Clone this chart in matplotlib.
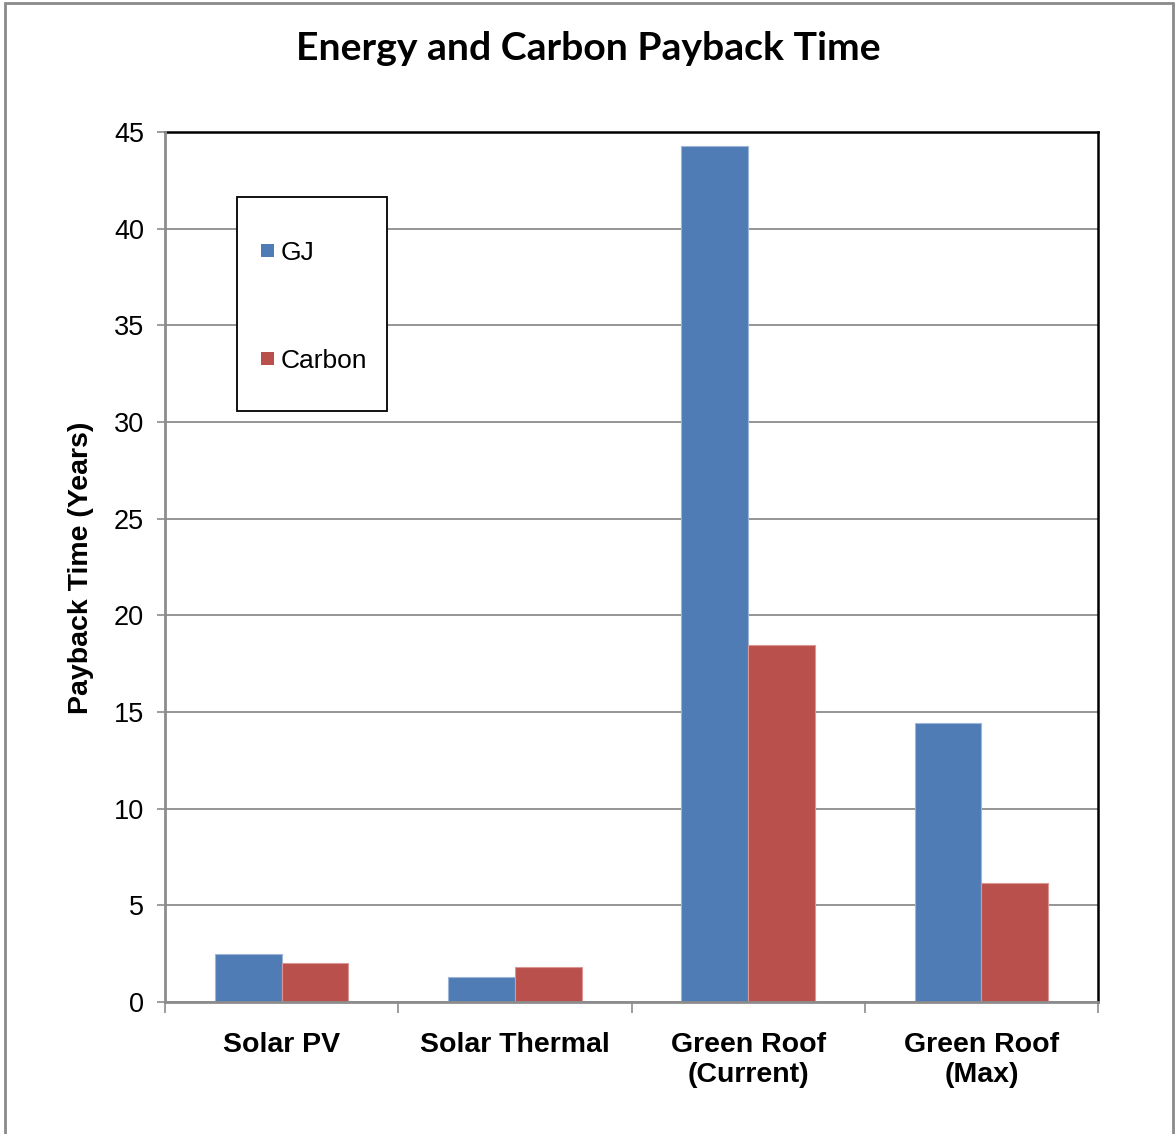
import matplotlib
matplotlib.use("Agg")
import matplotlib.pyplot as plt
from matplotlib.patches import Rectangle
import numpy as np

categories = ["Solar PV", "Solar Thermal", "Green Roof\n(Current)", "Green Roof\n(Max)"]
gj_years = [2.47, 1.27, 44.3, 14.45]
carbon_years = [2.0, 1.81, 18.44, 6.14]
series_names = ["GJ", "Carbon"]
y_ticks = [0, 5, 10, 15, 20, 25, 30, 35, 40, 45]

blue = "#4F7CB5"
red = "#BA504C"
grid_gray = "#8C8C8C"

W, H = 1175, 1134

plt.rcParams["font.family"] = ["Liberation Sans", "DejaVu Sans"]

fig = plt.figure(figsize=(W / 100, H / 100), dpi=100)
fig.patch.set_facecolor("white")


def fx(px):
    return px / W


def fy(py):
    return 1 - py / H


# outer chart frame
fig.add_artist(Rectangle((fx(5), -0.01), fx(1168), 1.01 - 3 / H,
                         transform=fig.transFigure, fill=False,
                         edgecolor="#8A8A8A", linewidth=2.0))

ax = fig.add_axes([fx(165), fy(1002), fx(933), 870 / H])

x = np.arange(len(categories)) + 0.5
w = 1 / 3.5
bars_gj = ax.bar(x - w / 2, gj_years, width=w, color=blue, edgecolor="#9DB5D8",
                 linewidth=0.8, label=series_names[0], zorder=3)
bars_c = ax.bar(x + w / 2, carbon_years, width=w, color=red, edgecolor="#D99694",
                linewidth=0.8, label=series_names[1], zorder=3)

ax.set_xlim(0, len(categories))
ax.set_ylim(0, 45)
ax.set_yticks(y_ticks)
ax.set_yticklabels([str(t) for t in y_ticks], fontsize=19.5)
ax.yaxis.grid(True, color=grid_gray, linewidth=1.3, zorder=0)
ax.set_axisbelow(True)

# category boundaries carry the x tick marks
ax.set_xticks(np.arange(len(categories) + 1))
ax.set_xticklabels([])
ax.tick_params(axis="x", length=8, width=1.2, color=grid_gray, direction="out")
ax.tick_params(axis="y", length=6, width=1.2, color=grid_gray, direction="out", pad=9)
for xi, lab in zip(x, categories):
    ax.text(xi, -1.55, lab, ha="center", va="top", fontsize=20.5,
            fontweight="bold", linespacing=1.2)

for side in ["top", "right"]:
    ax.spines[side].set_color("black")
    ax.spines[side].set_linewidth(1.8)
for side in ["left", "bottom"]:
    ax.spines[side].set_color(grid_gray)
    ax.spines[side].set_linewidth(2.0)
    ax.spines[side].set_zorder(4)

fig.text(fx(81), fy(568), "Payback Time (Years)", rotation=90, ha="center",
         va="center", fontsize=20.5, fontweight="bold")

fig.text(fx(588), fy(48), "Energy and Carbon Payback Time",
         ha="center", va="center", fontsize=28.2, fontweight="bold",
         family=["Lato", "DejaVu Sans"])

# legend box with one square swatch per series
fig.add_artist(Rectangle((fx(237), fy(411)), fx(150), 214 / H,
                         transform=fig.transFigure, facecolor="white",
                         edgecolor="black", linewidth=1.3, zorder=5))
for name, col, ry in zip(series_names, [blue, red], [250, 358]):
    fig.add_artist(Rectangle((fx(261), fy(ry + 6.5)), fx(13), 13 / H,
                             transform=fig.transFigure, facecolor=col,
                             edgecolor="none", zorder=6))
    fig.text(fx(281), fy(ry + 3), name, ha="left", va="center", fontsize=19,
             zorder=6)

fig.savefig("out.png", dpi=100, facecolor="white")
